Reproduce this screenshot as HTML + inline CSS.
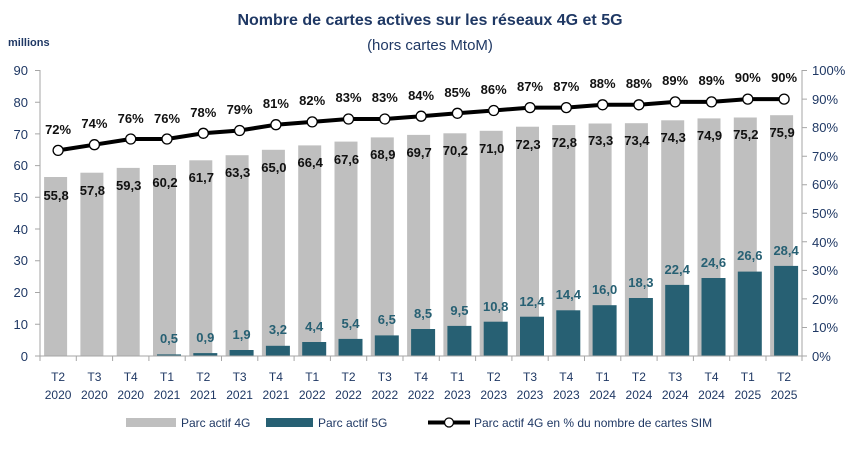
<!DOCTYPE html>
<html><head><meta charset="utf-8"><style>body{margin:0;background:#fff}svg{display:block}text{font-family:"Liberation Sans",sans-serif}</style></head><body>
<svg width="858" height="451" viewBox="0 0 858 451" xmlns="http://www.w3.org/2000/svg">
<text x="430" y="25" text-anchor="middle" font-size="16" font-weight="bold" fill="#1f3864">Nombre de cartes actives sur les réseaux 4G et 5G</text>
<text x="430" y="50" text-anchor="middle" font-size="15" fill="#1f3864">(hors cartes MtoM)</text>
<text x="8" y="46" font-size="11" font-weight="bold" fill="#1f3864">millions</text>
<g font-size="13" fill="#1f3864" text-anchor="end">
<text x="28" y="75">90</text><text x="28" y="107">80</text><text x="28" y="139">70</text><text x="28" y="170">60</text><text x="28" y="202">50</text><text x="28" y="234">40</text><text x="28" y="265">30</text><text x="28" y="297">20</text><text x="28" y="329">10</text><text x="28" y="361">0</text>
</g>
<g font-size="13" fill="#1f3864">
<text x="812" y="75">100%</text><text x="812" y="104">90%</text><text x="812" y="132">80%</text><text x="812" y="161">70%</text><text x="812" y="189">60%</text><text x="812" y="218">50%</text><text x="812" y="247">40%</text><text x="812" y="275">30%</text><text x="812" y="304">20%</text><text x="812" y="332">10%</text><text x="812" y="361">0%</text>
</g>
<g fill="#bfbfbf">
<rect x="44.1" y="177.0" width="23" height="179"/><rect x="80.4" y="172.7" width="23" height="183.3"/><rect x="116.7" y="167.9" width="23" height="188.1"/><rect x="153" y="165" width="23" height="191"/><rect x="189.3" y="160.3" width="23" height="195.7"/><rect x="225.6" y="155.2" width="23" height="200.8"/><rect x="261.9" y="149.8" width="23" height="206.2"/><rect x="298.2" y="145.4" width="23" height="210.6"/><rect x="334.5" y="141.6" width="23" height="214.4"/><rect x="370.8" y="137.4" width="23" height="218.6"/><rect x="407.1" y="134.9" width="23" height="221.1"/><rect x="443.4" y="133.3" width="23" height="222.7"/><rect x="479.7" y="130.8" width="23" height="225.2"/><rect x="516" y="126.7" width="23" height="229.3"/><rect x="552.3" y="125.1" width="23" height="230.9"/><rect x="588.6" y="123.5" width="23" height="232.5"/><rect x="624.9" y="123.2" width="23" height="232.8"/><rect x="661.2" y="120.3" width="23" height="235.7"/><rect x="697.5" y="118.4" width="23" height="237.6"/><rect x="733.8" y="117.5" width="23" height="238.5"/><rect x="770.1" y="115.2" width="23" height="240.8"/>
</g>
<g fill="#276073">
<rect x="157" y="354.4" width="24" height="1.6"/><rect x="193.3" y="353.1" width="24" height="2.9"/><rect x="229.6" y="350" width="24" height="6"/><rect x="265.9" y="345.8" width="24" height="10.2"/><rect x="302.2" y="342" width="24" height="14"/><rect x="338.5" y="338.9" width="24" height="17.1"/><rect x="374.8" y="335.4" width="24" height="20.6"/><rect x="411.1" y="329" width="24" height="27"/><rect x="447.4" y="325.9" width="24" height="30.1"/><rect x="483.7" y="321.7" width="24" height="34.3"/><rect x="520" y="316.7" width="24" height="39.3"/><rect x="556.3" y="310.3" width="24" height="45.7"/><rect x="592.6" y="305.2" width="24" height="50.8"/><rect x="628.9" y="298" width="24" height="58"/><rect x="665.2" y="284.9" width="24" height="71.1"/><rect x="701.5" y="278" width="24" height="78"/><rect x="737.8" y="271.6" width="24" height="84.4"/><rect x="774.1" y="265.9" width="24" height="90.1"/>
</g>
<g stroke="#a6a6a6" stroke-width="1">
<line x1="40" y1="70" x2="40" y2="356"/><line x1="802" y1="70" x2="802" y2="356"/><line x1="40" y1="356" x2="802" y2="356"/>
<path d="M35 70.5h5M35 102.2h5M35 133.9h5M35 165.6h5M35 197.3h5M35 229h5M35 260.8h5M35 292.5h5M35 324.2h5M35 356h5"/>
<path d="M802 70.5h5M802 99.1h5M802 127.6h5M802 156.2h5M802 184.7h5M802 213.3h5M802 241.8h5M802 270.4h5M802 298.9h5M802 327.5h5M802 356h5"/>
<path d="M40 356v5M76.3 356v5M112.6 356v5M148.9 356v5M185.2 356v5M221.5 356v5M257.8 356v5M294.1 356v5M330.4 356v5M366.7 356v5M403 356v5M439.3 356v5M475.6 356v5M511.9 356v5M548.2 356v5M584.5 356v5M620.8 356v5M657.1 356v5M693.4 356v5M729.7 356v5M766 356v5M802 356v5"/>
</g>
<g font-size="13" font-weight="bold" fill="#111" text-anchor="middle">
<text x="56.1" y="200">55,8</text><text x="92.4" y="195">57,8</text><text x="128.7" y="190">59,3</text><text x="165" y="187">60,2</text><text x="201.3" y="182">61,7</text><text x="237.6" y="177">63,3</text><text x="273.9" y="172">65,0</text><text x="310.2" y="167">66,4</text><text x="346.5" y="164">67,6</text><text x="382.8" y="159">68,9</text><text x="419.1" y="157">69,7</text><text x="455.4" y="155">70,2</text><text x="491.7" y="153">71,0</text><text x="528" y="149">72,3</text><text x="564.3" y="147">72,8</text><text x="600.6" y="145">73,3</text><text x="636.9" y="145">73,4</text><text x="673.2" y="142">74,3</text><text x="709.5" y="140">74,9</text><text x="745.8" y="139">75,2</text><text x="782.1" y="137">75,9</text>
</g>
<g font-size="13" font-weight="bold" fill="#276073" text-anchor="middle">
<text x="169" y="343">0,5</text><text x="205.3" y="342">0,9</text><text x="241.6" y="339">1,9</text><text x="277.9" y="334">3,2</text><text x="314.2" y="331">4,4</text><text x="350.5" y="328">5,4</text><text x="386.8" y="324">6,5</text><text x="423.1" y="318">8,5</text><text x="459.4" y="315">9,5</text><text x="495.7" y="311">10,8</text><text x="532" y="306">12,4</text><text x="568.3" y="299">14,4</text><text x="604.6" y="294">16,0</text><text x="640.9" y="287">18,3</text><text x="677.2" y="274">22,4</text><text x="713.5" y="267">24,6</text><text x="749.8" y="260">26,6</text><text x="786.1" y="255">28,4</text>
</g>
<polyline fill="none" stroke="#000" stroke-width="4" points="58.1,150.4 94.4,144.7 130.7,139 167,139 203.3,133.3 239.6,130.5 275.9,124.7 312.2,121.9 348.5,119 384.8,119 421.1,116.2 457.4,113.3 493.7,110.5 530,107.6 566.3,107.6 602.6,104.8 638.9,104.8 675.2,101.9 711.5,101.9 747.8,99.1 784.1,99.1"/>
<g fill="#fff" stroke="#000" stroke-width="1.3">
<circle cx="58.1" cy="150.4" r="5"/><circle cx="94.4" cy="144.7" r="5"/><circle cx="130.7" cy="139" r="5"/><circle cx="167" cy="139" r="5"/><circle cx="203.3" cy="133.3" r="5"/><circle cx="239.6" cy="130.5" r="5"/><circle cx="275.9" cy="124.7" r="5"/><circle cx="312.2" cy="121.9" r="5"/><circle cx="348.5" cy="119" r="5"/><circle cx="384.8" cy="119" r="5"/><circle cx="421.1" cy="116.2" r="5"/><circle cx="457.4" cy="113.3" r="5"/><circle cx="493.7" cy="110.5" r="5"/><circle cx="530" cy="107.6" r="5"/><circle cx="566.3" cy="107.6" r="5"/><circle cx="602.6" cy="104.8" r="5"/><circle cx="638.9" cy="104.8" r="5"/><circle cx="675.2" cy="101.9" r="5"/><circle cx="711.5" cy="101.9" r="5"/><circle cx="747.8" cy="99.1" r="5"/><circle cx="784.1" cy="99.1" r="5"/>
</g>
<g font-size="13" font-weight="bold" fill="#111" text-anchor="middle">
<text x="58.1" y="134">72%</text><text x="94.4" y="128">74%</text><text x="130.7" y="123">76%</text><text x="167" y="123">76%</text><text x="203.3" y="117">78%</text><text x="239.6" y="114">79%</text><text x="275.9" y="108">81%</text><text x="312.2" y="105">82%</text><text x="348.5" y="102">83%</text><text x="384.8" y="102">83%</text><text x="421.1" y="100">84%</text><text x="457.4" y="97">85%</text><text x="493.7" y="94">86%</text><text x="530" y="91">87%</text><text x="566.3" y="91">87%</text><text x="602.6" y="88">88%</text><text x="638.9" y="88">88%</text><text x="675.2" y="85">89%</text><text x="711.5" y="85">89%</text><text x="747.8" y="82">90%</text><text x="784.1" y="82">90%</text>
</g>
<g font-size="12" fill="#1f3864" text-anchor="middle">
<text x="58.1" y="381">T2</text><text x="94.4" y="381">T3</text><text x="130.7" y="381">T4</text><text x="167" y="381">T1</text><text x="203.3" y="381">T2</text><text x="239.6" y="381">T3</text><text x="275.9" y="381">T4</text><text x="312.2" y="381">T1</text><text x="348.5" y="381">T2</text><text x="384.8" y="381">T3</text><text x="421.1" y="381">T4</text><text x="457.4" y="381">T1</text><text x="493.7" y="381">T2</text><text x="530" y="381">T3</text><text x="566.3" y="381">T4</text><text x="602.6" y="381">T1</text><text x="638.9" y="381">T2</text><text x="675.2" y="381">T3</text><text x="711.5" y="381">T4</text><text x="747.8" y="381">T1</text><text x="784.1" y="381">T2</text>
<text x="58.1" y="399">2020</text><text x="94.4" y="399">2020</text><text x="130.7" y="399">2020</text><text x="167" y="399">2021</text><text x="203.3" y="399">2021</text><text x="239.6" y="399">2021</text><text x="275.9" y="399">2021</text><text x="312.2" y="399">2022</text><text x="348.5" y="399">2022</text><text x="384.8" y="399">2022</text><text x="421.1" y="399">2022</text><text x="457.4" y="399">2023</text><text x="493.7" y="399">2023</text><text x="530" y="399">2023</text><text x="566.3" y="399">2023</text><text x="602.6" y="399">2024</text><text x="638.9" y="399">2024</text><text x="675.2" y="399">2024</text><text x="711.5" y="399">2024</text><text x="747.8" y="399">2025</text><text x="784.1" y="399">2025</text>
</g>
<rect x="126" y="418" width="50" height="9" fill="#bfbfbf"/>
<text x="181" y="427" font-size="12" fill="#1f3864">Parc actif 4G</text>
<rect x="266" y="418" width="47" height="9" fill="#276073"/>
<text x="318" y="427" font-size="12" fill="#1f3864">Parc actif 5G</text>
<line x1="428" y1="422.5" x2="470" y2="422.5" stroke="#000" stroke-width="4"/>
<circle cx="449" cy="422.5" r="4.5" fill="#fff" stroke="#000" stroke-width="1.3"/>
<text x="474" y="427" font-size="12" fill="#1f3864">Parc actif 4G en % du nombre de cartes SIM</text>
</svg>
</body></html>
